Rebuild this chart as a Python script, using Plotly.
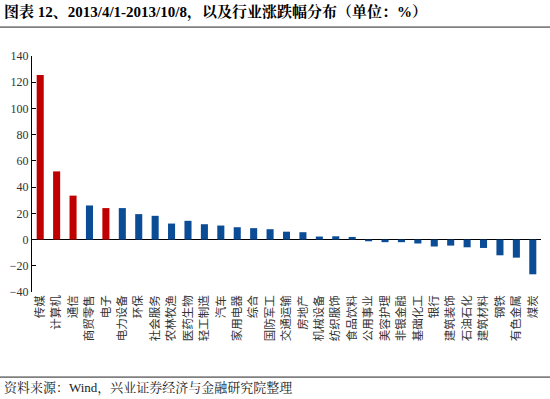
import plotly.graph_objects as go

categories = ["传媒", "计算机", "通信", "商贸零售", "电子", "电力设备", "环保", "社会服务",
              "农林牧渔", "医药生物", "轻工制造", "汽车", "家用电器", "综合", "国防军工",
              "交通运输", "房地产", "机械设备", "纺织服饰", "食品饮料", "公用事业", "美容护理",
              "非银金融", "基础化工", "银行", "建筑装饰", "石油石化", "建筑材料", "钢铁",
              "有色金属", "煤炭"]
values = [125.5, 52, 33.5, 26, 24, 24, 19.4, 18.1, 12.2, 14.3, 11.7, 10.7, 9.4, 8.7, 7.9,
          6.0, 5.6, 2.3, 2.5, 2.0, -1.3, -2.0, -2.0, -3.0, -5.3, -4.6, -5.9, -6.4, -12.0,
          -13.8, -26.5]
highlight = ["传媒", "计算机", "通信", "电子"]
y_ticks = [-40, -20, 0, 20, 40, 60, 80, 100, 120, 140]

title_text = "图表 12、2013/4/1-2013/10/8，以及行业涨跌幅分布（单位：%）"
source_text = "资料来源：Wind，兴业证券经济与金融研究院整理"

RED = "#C00000"
BLUE = "#0A4C96"
RULE = "#808080"
colors = [RED if c in highlight else BLUE for c in categories]

serif = "Liberation Serif, Times New Roman, Noto Serif CJK SC, Noto Sans CJK SC, serif"

W, H = 550, 399
# plot area in pixels
PL, PR, PT, PB = 32, 541, 56, 292
RULE_TOP, RULE_BOTTOM = 27, 377


def fx(px):
    return px / W


def fy(py):
    return 1 - py / H


fig = go.Figure()
fig.add_trace(go.Bar(x=categories, y=values, marker_color=colors, marker_line_width=0))

rule_annotations = [
    dict(text="", xref="paper", yref="paper", x=0, y=fy(ry), xanchor="left",
         yanchor="middle", showarrow=False, width=W, height=1, bgcolor=RULE,
         borderpad=0, borderwidth=0)
    for ry in (RULE_TOP, RULE_BOTTOM)
]

fig.update_layout(
    width=W, height=H,
    autosize=False,
    margin=dict(l=0, r=0, t=0, b=0, pad=0, autoexpand=False),
    paper_bgcolor="white", plot_bgcolor="white",
    bargap=0.57,
    showlegend=False,
    font=dict(family=serif, color="#222"),
    xaxis=dict(
        domain=[fx(PL), fx(PR)],
        type="category", tickangle=-90, showline=False, ticks="", showgrid=False,
        tickfont=dict(size=11.5, family="Noto Sans CJK SC, serif", color="#333"),
        zeroline=False, automargin=False,
    ),
    yaxis=dict(
        domain=[fy(PB), fy(PT)],
        range=[-40, 140], tickvals=y_ticks, showgrid=False,
        showline=True, linecolor="black", linewidth=1,
        ticks="inside", ticklen=4, tickcolor="black",
        zeroline=True, zerolinecolor="black", zerolinewidth=1,
        tickfont=dict(size=12, family=serif, color="#333"),
        automargin=False,
    ),
    shapes=[
        dict(type="rect", xref="paper", yref="paper", x0=0, x1=1,
             y0=fy(ry + 0.75), y1=fy(ry - 0.75), fillcolor=RULE,
             line=dict(width=0), layer="above")
        for ry in (RULE_TOP, RULE_BOTTOM)
    ],
    annotations=rule_annotations + [
        dict(text="<b>" + title_text + "</b>", xref="paper", yref="paper",
             x=fx(2), y=fy(12), xanchor="left", yanchor="middle", showarrow=False,
             font=dict(size=15, family=serif, color="black")),
        dict(text=source_text, xref="paper", yref="paper",
             x=fx(2), y=fy(388), xanchor="left", yanchor="middle", showarrow=False,
             font=dict(size=13, family=serif, color="#222")),
    ],
)

fig.write_html("out.html", config={"displayModeBar": False, "staticPlot": True})

# remove the default page margin so the figure sits at the window's top-left corner
with open("out.html", "r", encoding="utf-8") as f:
    html = f.read()
html = html.replace("<body>", '<body style="margin:0;padding:0;overflow:hidden">', 1)
with open("out.html", "w", encoding="utf-8") as f:
    f.write(html)
